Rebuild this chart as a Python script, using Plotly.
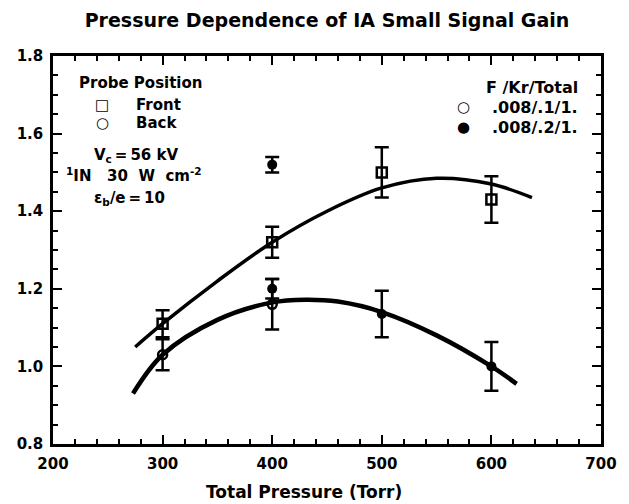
import plotly.graph_objects as go

# --- data ---
front_x = [300, 400, 500, 600]
front_y = [1.11, 1.32, 1.50, 1.43]
front_err = [0.035, 0.04, 0.065, 0.06]

back_open_x = [300, 400]
back_open_y = [1.03, 1.16]
back_open_err = [0.04, 0.065]

filled_x = [400, 400, 500, 600]
filled_y = [1.52, 1.20, 1.135, 1.00]
filled_err = [0.02, 0.025, 0.06, 0.063]

upper_curve_x = [275, 300, 350, 400, 450, 500, 550, 600, 637]
upper_curve_y = [1.05, 1.11, 1.22, 1.32, 1.40, 1.46, 1.485, 1.47, 1.435]

lower_curve_x = [273, 300, 350, 400, 430, 460, 500, 550, 600, 623]
lower_curve_y = [0.93, 1.03, 1.12, 1.165, 1.172, 1.167, 1.14, 1.08, 1.00, 0.955]

x_ticks = [200, 300, 400, 500, 600, 700]
y_ticks = [0.8, 1.0, 1.2, 1.4, 1.6, 1.8]
y_tick_labels = ["0.8", "1.0", "1.2", "1.4", "1.6", "1.8"]

FONT = "DejaVu Sans"
BLACK = "black"
NB = "\u00a0"   # non-breaking space
TH = "\u2009"   # thin space

# plot-area pixel box (used only to place free text)
PX_L, PX_R, PX_T, PX_B = 53, 607, 56, 444


def px_to_paper(px, py):
    return (px - PX_L) / (PX_R - PX_L), (PX_B - py) / (PX_B - PX_T)


fig = go.Figure()

fig.add_trace(go.Scatter(x=upper_curve_x, y=upper_curve_y, mode="lines",
                         line=dict(color=BLACK, width=3.5, shape="spline", smoothing=1.0),
                         hoverinfo="skip", showlegend=False))
fig.add_trace(go.Scatter(x=lower_curve_x, y=lower_curve_y, mode="lines",
                         line=dict(color=BLACK, width=4.5, shape="spline", smoothing=1.0),
                         hoverinfo="skip", showlegend=False))

err_style = dict(type="data", color=BLACK, thickness=2.5, width=7)

fig.add_trace(go.Scatter(x=front_x, y=front_y, mode="markers",
                         marker=dict(symbol="square-open", size=10, color=BLACK, line=dict(width=2.5)),
                         error_y=dict(array=front_err, **err_style), showlegend=False))
fig.add_trace(go.Scatter(x=back_open_x, y=back_open_y, mode="markers",
                         marker=dict(symbol="circle-open", size=9, color=BLACK, line=dict(width=2.5)),
                         error_y=dict(array=back_open_err, **err_style), showlegend=False))
fig.add_trace(go.Scatter(x=filled_x, y=filled_y, mode="markers",
                         marker=dict(symbol="circle", size=10, color=BLACK),
                         error_y=dict(array=filled_err, **err_style), showlegend=False))

axis_common = dict(
    showgrid=False, zeroline=False, showline=True, linecolor=BLACK, linewidth=2.5,
    mirror="allticks", ticks="inside", ticklen=9, tickwidth=2, tickcolor=BLACK,
    tickfont=dict(family=FONT, size=15, color=BLACK, weight="bold"),
    ticklabelstandoff=4,
)

fig.update_xaxes(range=[200, 700], tickvals=x_ticks,
                 minor=dict(dtick=20, ticks="inside", ticklen=5, tickwidth=2, tickcolor=BLACK),
                 **axis_common)
fig.update_yaxes(range=[0.8, 1.8], tickvals=y_ticks, ticktext=y_tick_labels,
                 minor=dict(dtick=0.05, ticks="inside", ticklen=5, tickwidth=2, tickcolor=BLACK),
                 **axis_common)

annotations = [
    dict(x=77, y=83, text="<b>Probe Position</b>", anchor="left", size=15),
    dict(x=103, y=105, text="<b>□</b>", anchor="center", size=15),
    dict(x=135, y=105, text="<b>Front</b>", anchor="left", size=15),
    dict(x=103, y=123, text="<b>○</b>", anchor="center", size=15),
    dict(x=135, y=123, text="<b>Back</b>", anchor="left", size=15),
    dict(x=92, y=155, text=f"<b>V<sub>c</sub>{TH}={TH}56 kV</b>", anchor="left", size=15),
    dict(x=64, y=175, text=f"<b><sup>1</sup>IN{NB}{NB}{NB}30{NB}{NB}W{NB}{NB}cm<sup>-2</sup></b>",
         anchor="left", size=15),
    dict(x=92, y=198, text=f"<b>ε<sub>b</sub>/e{TH}={TH}10</b>", anchor="left", size=15),
    dict(x=586, y=87, text="<b>F /Kr/Total</b>", anchor="right", size=16),
    dict(x=468, y=107, text="<b>○</b>", anchor="center", size=15),
    dict(x=586, y=107, text="<b>.008/.1/1.</b>", anchor="right", size=16),
    dict(x=468, y=127, text="<b>●</b>", anchor="center", size=15),
    dict(x=586, y=127, text="<b>.008/.2/1.</b>", anchor="right", size=16),
]
for a in annotations:
    xp, yp = px_to_paper(a["x"], a["y"])
    fig.add_annotation(x=xp, y=yp, xref="paper", yref="paper",
                       text=a["text"], showarrow=False, xanchor=a["anchor"], yanchor="middle",
                       font=dict(family=FONT, size=a["size"], color=BLACK))

# x-axis title (sits left of centre in the reference)
xt, yt = px_to_paper(307, 492)
fig.add_annotation(x=xt, y=yt, xref="paper", yref="paper", showarrow=False,
                   text="<b>Total Pressure (Torr)</b>", xanchor="center", yanchor="middle",
                   font=dict(family=FONT, size=17, color=BLACK))

fig.update_layout(
    width=629, height=504,
    margin=dict(l=PX_L, r=629 - PX_R, t=PX_T, b=504 - PX_B),
    paper_bgcolor="white", plot_bgcolor="white",
    title=dict(text="<b>Pressure Dependence of IA Small Signal Gain</b>",
               x=327 / 629, xanchor="center", y=1 - 20 / 504, yanchor="middle",
               font=dict(family=FONT, size=19, color=BLACK)),
)

fig.write_html("out.html", config={"displayModeBar": False},
               post_script="document.body.style.margin='0px';")
